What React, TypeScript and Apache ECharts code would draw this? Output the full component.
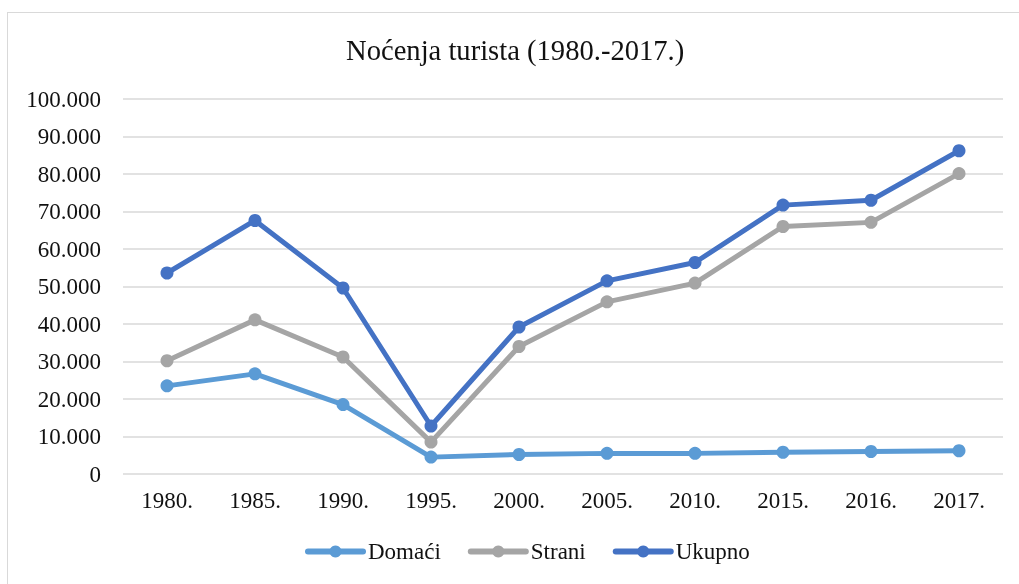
import React, { useEffect, useRef } from "react";
import * as echarts from "echarts";

const categories = ["1980.", "1985.", "1990.", "1995.", "2000.", "2005.", "2010.", "2015.", "2016.", "2017."];
const domaci = [23500, 26700, 18500, 4500, 5200, 5500, 5500, 5800, 6000, 6200];
const strani = [30200, 41100, 31200, 8500, 34000, 45900, 50900, 66000, 67100, 80100];
const ukupno = [53600, 67600, 49600, 12800, 39200, 51500, 56400, 71700, 73000, 86200];
const yTicks = { min: 0, max: 100000, interval: 10000 };

const FONT = '"Liberation Serif", "Times New Roman", serif';

function fmt(v: number): string {
  if (v === 0) return "0";
  const s = String(Math.round(v));
  return s.replace(/\B(?=(\d{3})+(?!\d))/g, ".");
}

export default function App() {
  const ref = useRef<HTMLDivElement>(null);
  useEffect(() => {
    document.body.style.overflow = "hidden";
    const chart = echarts.init(ref.current!, null, { renderer: "svg" });
    const mk = (name: string, data: number[], color: string) => ({
      name,
      type: "line",
      data,
      symbol: "circle",
      symbolSize: 13,
      lineStyle: { width: 5, color },
      itemStyle: { color },
      emphasis: { disabled: true },
    });
    chart.setOption({
      animation: false,
      backgroundColor: "transparent",
      title: {
        text: "Noćenja turista (1980.-2017.)",
        left: 341,
        top: 31,
        textStyle: { fontFamily: FONT, fontSize: 28.6, fontWeight: "normal", color: "#111" },
      },
      legend: {
        bottom: 16,
        left: 300,
        itemWidth: 55,
        itemHeight: 15,
        itemGap: 27,
        lineStyle: { width: 6, cap: "round" },
        textStyle: { fontFamily: FONT, fontSize: 23, color: "#111" },
        data: ["Domaći", "Strani", "Ukupno"],
      },
      grid: { left: 123, right: 16, top: 99, bottom: 110, containLabel: false },
      xAxis: {
        type: "category",
        data: categories,
        boundaryGap: true,
        axisLine: { show: false },
        axisTick: { show: false },
        axisLabel: { fontFamily: FONT, fontSize: 23, color: "#111", margin: 15 },
      },
      yAxis: {
        type: "value",
        min: yTicks.min,
        max: yTicks.max,
        interval: yTicks.interval,
        axisLine: { show: false },
        axisTick: { show: false },
        splitLine: { lineStyle: { color: "#d9d9d9", width: 1.5 } },
        axisLabel: { fontFamily: FONT, fontSize: 23, color: "#111", margin: 22, formatter: fmt },
      },
      series: [
        mk("Domaći", domaci, "#5B9BD5"),
        mk("Strani", strani, "#A5A5A5"),
        mk("Ukupno", ukupno, "#4472C4"),
      ],
    });
    return () => chart.dispose();
  }, []);
  return (
    <>
      <div
        style={{
          position: "fixed",
          left: 7,
          top: 12,
          width: 1200,
          height: 800,
          border: "1px solid #d9d9d9",
          boxSizing: "border-box",
        }}
      />
      <div ref={ref} style={{ position: "fixed", left: 0, top: 0, width: 1019, height: 584 }} />
    </>
  );
}
